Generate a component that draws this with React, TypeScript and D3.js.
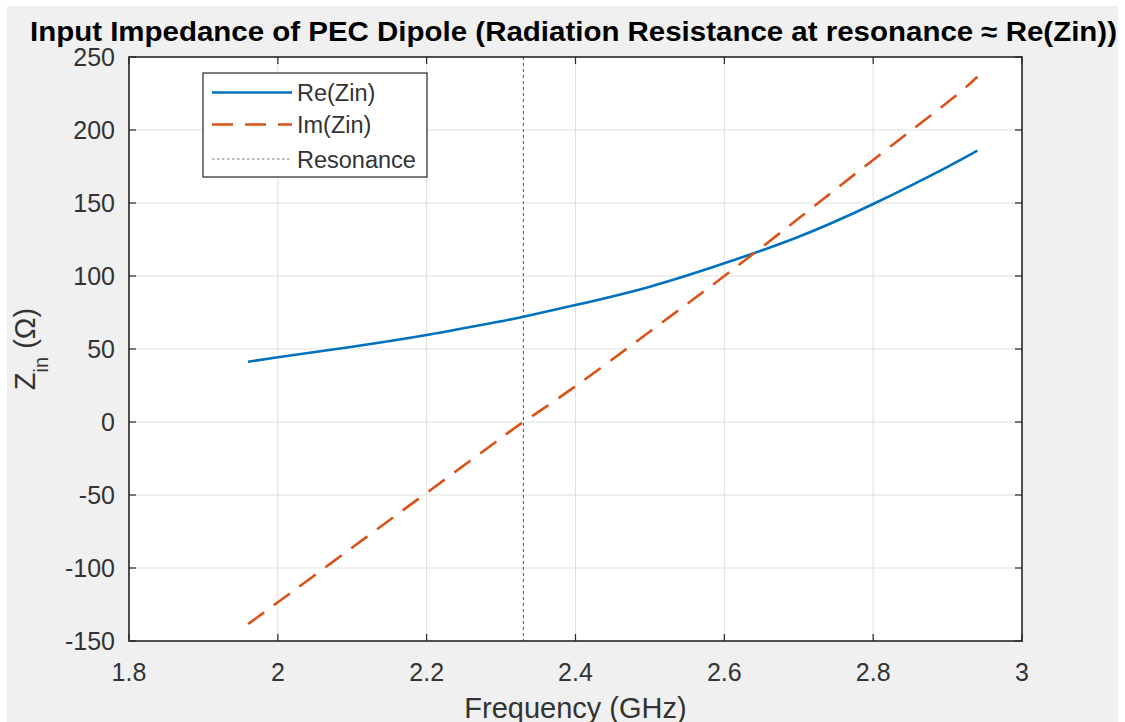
import React from "react";
import * as d3 from "d3";

const freqGHz = [1.96, 2.0, 2.1, 2.2, 2.3, 2.33, 2.4, 2.5, 2.6, 2.7, 2.8, 2.9, 2.94];
const reZin = [41.3, 44.3, 51.6, 59.6, 69.0, 72.1, 80.1, 92.7, 108.7, 126.9, 149.3, 174.8, 185.8];
const imZin = [-138.4, -123.5, -86, -48.5, -11, 0, 24.5, 62, 100, 139.5, 179.5, 219, 236.5];
const resonanceGHz = 2.33;
const xTicks = [1.8, 2, 2.2, 2.4, 2.6, 2.8, 3];
const yTicks = [-150, -100, -50, 0, 50, 100, 150, 200, 250];
const legendLabels = ["Re(Zin)", "Im(Zin)", "Resonance"];
const titleText = "Input Impedance of PEC Dipole (Radiation Resistance at resonance \u2248 Re(Zin))";

const W = 1125, H = 722;
const L = 129, R = 1022, T = 57, B = 641;
const AX = "#262626";
const TXT = "#333333";
const FONT = "'Liberation Sans', Arial, Helvetica, sans-serif";

export default function App() {
  const x = d3.scaleLinear().domain([1.8, 3]).range([L, R]);
  const y = d3.scaleLinear().domain([-150, 250]).range([B, T]);
  const pts = freqGHz.map((f, i) => ({ f, re: reZin[i], im: imZin[i] }));
  const reLine = d3.line<any>().x(d => x(d.f)).y(d => y(d.re)).curve(d3.curveNatural)(pts) || "";
  const imLine = d3.line<any>().x(d => x(d.f)).y(d => y(d.im)).curve(d3.curveNatural)(pts) || "";
  const tickLen = 7;
  const legX = 203, legY = 73, legW = 224, legH = 104;
  const rowY = [92.5, 124.5, 159];

  return (
    <svg width={W} height={H} style={{ position: "absolute", left: 0, top: 0 }} fontFamily={FONT}>
      <rect x={0} y={0} width={W} height={H} fill="#ffffff" />
      <rect x={7} y={6} width={1111} height={716} fill="#f0f0f0" />
      <rect x={L} y={T} width={R - L} height={B - T} fill="#ffffff" />
      {/* grid */}
      {xTicks.slice(1, -1).map(t => (
        <line key={"gx" + t} x1={x(t)} x2={x(t)} y1={T} y2={B} stroke="#dfdfdf" strokeWidth={1} />
      ))}
      {yTicks.slice(1, -1).map(t => (
        <line key={"gy" + t} x1={L} x2={R} y1={y(t)} y2={y(t)} stroke="#dfdfdf" strokeWidth={1} />
      ))}
      {/* resonance */}
      <line x1={x(resonanceGHz)} x2={x(resonanceGHz)} y1={T} y2={B} stroke="#555555" strokeWidth={1} strokeDasharray="3,3" />
      {/* curves */}
      <path d={reLine} fill="none" stroke="#0072BD" strokeWidth={2.6} />
      <path d={imLine} fill="none" stroke="#D95319" strokeWidth={2.6} strokeDasharray="20,12" />
      {/* ticks */}
      {xTicks.map(t => (
        <g key={"tx" + t}>
          <line x1={x(t)} x2={x(t)} y1={B} y2={B - tickLen} stroke={AX} strokeWidth={1.2} />
          <line x1={x(t)} x2={x(t)} y1={T} y2={T + tickLen} stroke={AX} strokeWidth={1.2} />
          <text x={x(t)} y={681} textAnchor="middle" fontSize={25} fill={TXT}>{String(t)}</text>
        </g>
      ))}
      {yTicks.map(t => (
        <g key={"ty" + t}>
          <line x1={L} x2={L + tickLen} y1={y(t)} y2={y(t)} stroke={AX} strokeWidth={1.2} />
          <line x1={R} x2={R - tickLen} y1={y(t)} y2={y(t)} stroke={AX} strokeWidth={1.2} />
          <text x={115} y={y(t) + 9} textAnchor="end" fontSize={25} fill={TXT}>{String(t)}</text>
        </g>
      ))}
      <rect x={L} y={T} width={R - L} height={B - T} fill="none" stroke={AX} strokeWidth={1.6} />
      {/* legend */}
      <rect x={legX} y={legY} width={legW} height={legH} fill="#ffffff" stroke={AX} strokeWidth={1.2} />
      <line x1={212} x2={292} y1={rowY[0]} y2={rowY[0]} stroke="#0072BD" strokeWidth={2.6} />
      <line x1={212} x2={292} y1={rowY[1]} y2={rowY[1]} stroke="#D95319" strokeWidth={2.6} strokeDasharray="21,12" />
      <line x1={212} x2={292} y1={rowY[2]} y2={rowY[2]} stroke="#777777" strokeWidth={1} strokeDasharray="2.5,2.5" />
      {legendLabels.map((s, i) => (
        <text key={s} x={297} y={rowY[i] + 8.5} fontSize={23.5} fill={TXT}>{s}</text>
      ))}
      {/* title */}
      <text x={573.5} y={40.5} textAnchor="middle" fontSize={27} fontWeight="bold" fill="#000000"
        textLength={1087} lengthAdjust="spacingAndGlyphs">{titleText}</text>
      {/* x label */}
      <text x={(L + R) / 2} y={718} textAnchor="middle" fontSize={29} fill={TXT}>Frequency (GHz)</text>
      {/* y label */}
      <text transform={`translate(35,${(T + B) / 2}) rotate(-90)`} textAnchor="middle" fontSize={29} fill={TXT}>
        <tspan>Z</tspan>
        <tspan dy={13} fontSize={20}>in</tspan>
        <tspan dy={-13}>{" (\u03A9)"}</tspan>
      </text>
    </svg>
  );
}
